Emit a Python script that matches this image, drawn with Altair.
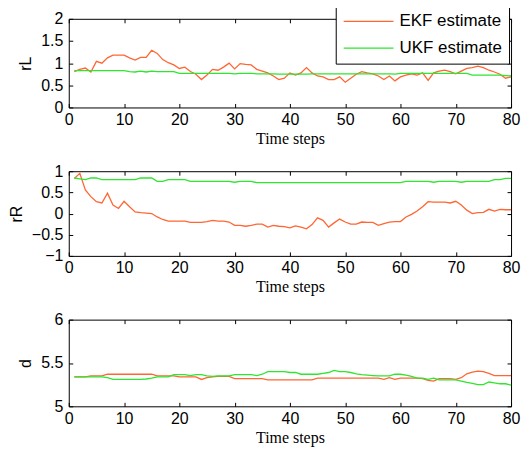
import altair as alt
import pandas as pd

steps = list(range(1, 81))
series_names = ["EKF estimate", "UKF estimate"]
series_colors = ["#FF6633", "#2EE62E"]
x_ticks = [0, 10, 20, 30, 40, 50, 60, 70, 80]

ekf_rL = [0.81, 0.86, 0.89, 0.80, 1.04, 1.00, 1.12, 1.18, 1.18, 1.18,
          1.12, 1.07, 1.13, 1.13, 1.29, 1.22, 1.08, 1.01, 0.96, 0.88,
          0.91, 0.81, 0.75, 0.63, 0.73, 0.86, 0.84, 0.91, 1.00, 0.87,
          0.99, 0.97, 0.96, 0.86, 0.82, 0.78, 0.71, 0.63, 0.66, 0.78,
          0.73, 0.78, 0.90, 0.78, 0.71, 0.69, 0.63, 0.63, 0.69, 0.57,
          0.66, 0.75, 0.81, 0.78, 0.76, 0.71, 0.63, 0.71, 0.60, 0.69,
          0.73, 0.76, 0.73, 0.78, 0.61, 0.78, 0.82, 0.84, 0.81, 0.76,
          0.82, 0.88, 0.90, 0.93, 0.90, 0.84, 0.80, 0.75, 0.66, 0.69]
ukf_rL = [0.83, 0.83, 0.83, 0.83, 0.83, 0.83, 0.83, 0.83, 0.83, 0.83,
          0.81, 0.80, 0.82, 0.80, 0.82, 0.81, 0.81, 0.81, 0.81, 0.77,
          0.77, 0.77, 0.77, 0.77, 0.77, 0.77, 0.77, 0.77, 0.77, 0.76,
          0.77, 0.77, 0.77, 0.76, 0.76, 0.76, 0.76, 0.75, 0.75, 0.75,
          0.75, 0.75, 0.75, 0.76, 0.76, 0.76, 0.76, 0.76, 0.76, 0.76,
          0.76, 0.76, 0.76, 0.76, 0.76, 0.76, 0.76, 0.76, 0.75, 0.77,
          0.77, 0.77, 0.77, 0.77, 0.77, 0.77, 0.77, 0.77, 0.77, 0.77,
          0.77, 0.77, 0.73, 0.73, 0.73, 0.73, 0.73, 0.73, 0.72, 0.71]

ekf_rR = [0.83, 0.95, 0.56, 0.40, 0.28, 0.25, 0.48, 0.20, 0.12, 0.29,
          0.16, 0.04, 0.02, 0.01, 0.00, -0.08, -0.14, -0.18, -0.18, -0.18,
          -0.18, -0.21, -0.21, -0.21, -0.19, -0.16, -0.18, -0.18, -0.20, -0.28,
          -0.28, -0.30, -0.28, -0.25, -0.25, -0.32, -0.28, -0.30, -0.31, -0.34,
          -0.29, -0.32, -0.36, -0.26, -0.10, -0.16, -0.32, -0.22, -0.13, -0.20,
          -0.25, -0.25, -0.20, -0.21, -0.21, -0.28, -0.24, -0.20, -0.19, -0.19,
          -0.08, -0.02, 0.06, 0.16, 0.28, 0.27, 0.27, 0.27, 0.25, 0.29,
          0.20, 0.08, 0.00, 0.02, 0.03, 0.10, 0.06, 0.10, 0.09, 0.09]
ukf_rR = [0.84, 0.82, 0.80, 0.84, 0.84, 0.80, 0.80, 0.80, 0.80, 0.80,
          0.80, 0.80, 0.84, 0.84, 0.84, 0.76, 0.76, 0.80, 0.80, 0.80,
          0.80, 0.76, 0.76, 0.76, 0.76, 0.76, 0.76, 0.76, 0.76, 0.74,
          0.76, 0.76, 0.76, 0.73, 0.73, 0.73, 0.73, 0.73, 0.73, 0.73,
          0.73, 0.73, 0.73, 0.73, 0.73, 0.73, 0.73, 0.73, 0.73, 0.73,
          0.73, 0.73, 0.73, 0.73, 0.73, 0.73, 0.73, 0.73, 0.73, 0.73,
          0.76, 0.76, 0.76, 0.76, 0.76, 0.74, 0.76, 0.76, 0.76, 0.76,
          0.74, 0.76, 0.76, 0.76, 0.76, 0.76, 0.80, 0.80, 0.83, 0.83]

ekf_d = [5.34, 5.34, 5.34, 5.35, 5.35, 5.35, 5.37, 5.37, 5.37, 5.37,
         5.37, 5.37, 5.37, 5.37, 5.37, 5.35, 5.35, 5.35, 5.35, 5.34,
         5.34, 5.34, 5.34, 5.31, 5.33, 5.34, 5.345, 5.345, 5.345, 5.32,
         5.32, 5.32, 5.32, 5.32, 5.32, 5.305, 5.305, 5.305, 5.305, 5.305,
         5.305, 5.305, 5.305, 5.305, 5.325, 5.325, 5.325, 5.325, 5.325, 5.325,
         5.325, 5.325, 5.325, 5.325, 5.325, 5.325, 5.31, 5.33, 5.31, 5.325,
         5.325, 5.325, 5.325, 5.32, 5.30, 5.29, 5.32, 5.32, 5.32, 5.31,
         5.33, 5.375, 5.395, 5.405, 5.40, 5.38, 5.355, 5.355, 5.355, 5.355]
ukf_d = [5.34, 5.34, 5.34, 5.34, 5.34, 5.34, 5.33, 5.31, 5.31, 5.31,
         5.31, 5.31, 5.31, 5.315, 5.325, 5.34, 5.34, 5.34, 5.365, 5.365,
         5.365, 5.355, 5.365, 5.365, 5.35, 5.345, 5.35, 5.35, 5.35, 5.365,
         5.365, 5.365, 5.365, 5.355, 5.37, 5.40, 5.40, 5.40, 5.40, 5.39,
         5.39, 5.37, 5.37, 5.37, 5.37, 5.38, 5.39, 5.415, 5.40, 5.40,
         5.39, 5.375, 5.365, 5.36, 5.355, 5.35, 5.35, 5.35, 5.37, 5.37,
         5.36, 5.345, 5.325, 5.325, 5.31, 5.325, 5.305, 5.305, 5.305, 5.305,
         5.29, 5.275, 5.265, 5.25, 5.25, 5.28, 5.27, 5.26, 5.26, 5.245]

SANS = "Liberation Sans"
SERIF = "Liberation Serif"


def panel(ekf, ukf, ylabel, ydomain, yticks, height, show_legend):
    df = pd.DataFrame({
        "t": steps + steps,
        "v": ekf + ukf,
        "s": [series_names[0]] * len(steps) + [series_names[1]] * len(steps),
    })
    xs = alt.Scale(domain=[0, 80], nice=False, zero=False)
    ys = alt.Scale(domain=ydomain, nice=False, zero=False)
    if show_legend:
        leg = alt.Legend(
            title=None, orient="none", legendX=268, legendY=-13,
            direction="vertical", symbolType="stroke", symbolSize=2500,
            clipHeight=17, symbolStrokeWidth=1.3, labelFont=SANS,
            labelFontSize=17, labelColor="black", labelOffset=5,
            rowPadding=9, padding=7, strokeColor="black",
            fillColor="white", labelLimit=200,
        )
    else:
        leg = None
    base = alt.Chart(df).mark_line(strokeWidth=1.3).encode(
        x=alt.X("t:Q", scale=xs, axis=alt.Axis(
            orient="bottom", values=x_ticks, title="Time steps", offset=-4,
            tickSize=4, domain=False, grid=False, labelPadding=4,
            labelFlush=False, labelOverlap=False, labelFont=SANS,
            labelFontSize=16, titleFont=SERIF, titleFontSize=16,
            titleFontWeight="normal", titlePadding=3)),
        y=alt.Y("v:Q", scale=ys, axis=alt.Axis(
            orient="left", values=yticks, format="~g", title=ylabel,
            offset=-4, tickSize=4, domain=False, grid=False, labelPadding=6,
            labelFlush=False, labelOverlap=False, labelFont=SANS,
            labelFontSize=16, titleFont=SANS, titleFontSize=16,
            titleFontWeight="normal", titlePadding=7)),
        color=alt.Color("s:N", scale=alt.Scale(domain=series_names,
                                               range=series_colors),
                        legend=leg),
    )
    frame = alt.Chart(df).mark_point(opacity=0).encode(
        x=alt.X("t:Q", scale=xs, axis=alt.Axis(
            orient="top", values=x_ticks, labels=False, title=None,
            offset=-4, tickSize=4, domain=False, grid=False)),
        y=alt.Y("v:Q", scale=ys, axis=alt.Axis(
            orient="right", values=yticks, labels=False, title=None,
            offset=-4, tickSize=4, domain=False, grid=False)),
    )
    return alt.layer(base, frame).resolve_axis(
        x="independent", y="independent").properties(width=444, height=height)


p1 = panel(ekf_rL, ukf_rL, "rL", [0, 2], [0, 0.5, 1, 1.5, 2], 89, True)
p2 = panel(ekf_rR, ukf_rR, "rR", [-1, 1], [-1, -0.5, 0, 0.5, 1], 85, False)
p3 = panel(ekf_d, ukf_d, "d", [5, 6], [5, 5.5, 6], 87, False)

chart = alt.vconcat(p1, p2, p3, spacing=15).resolve_scale(
    color="independent"
).properties(
    padding={"top": -4, "left": -1, "right": 0, "bottom": 0},
    background="white",
).configure_view(
    stroke="black", strokeWidth=1
).configure_axis(
    labelColor="black", tickColor="black", titleColor="black", tickWidth=1
)

chart.save("out.html", embed_options={"renderer": "svg", "actions": False})
